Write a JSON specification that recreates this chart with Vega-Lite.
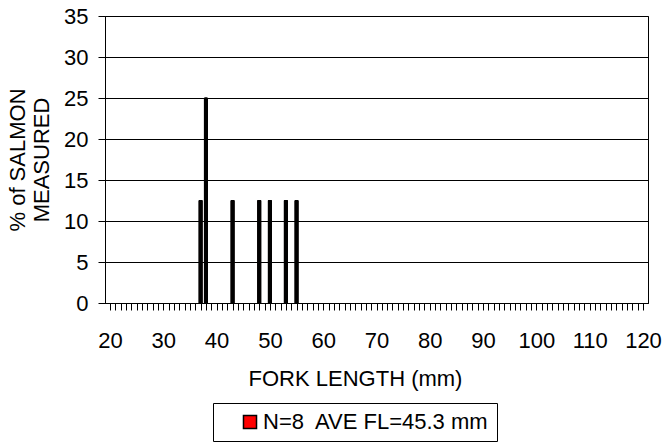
{
  "$schema": "https://vega.github.io/schema/vega-lite/v6.json",
  "width": 543,
  "height": 287,
  "autosize": {"type": "none"},
  "padding": {"left": 105, "top": 16, "right": 17, "bottom": 139},
  "background": "white",
  "config": {
    "font": "Liberation Sans, Arial, sans-serif",
    "view": {"stroke": "black", "strokeWidth": 1},
    "axis": {
      "domainColor": "black",
      "tickColor": "black",
      "gridColor": "black",
      "gridOpacity": 1,
      "gridWidth": 1,
      "labelColor": "black",
      "titleColor": "black",
      "labelFontSize": 22,
      "titleFontSize": 22,
      "titleFontWeight": "normal",
      "tickSize": 7
    }
  },
  "data": {
    "values": [
      {"fork_length": 37, "pct": 12.5},
      {"fork_length": 38, "pct": 25},
      {"fork_length": 43, "pct": 12.5},
      {"fork_length": 48, "pct": 12.5},
      {"fork_length": 50, "pct": 12.5},
      {"fork_length": 53, "pct": 12.5},
      {"fork_length": 55, "pct": 12.5}
    ]
  },
  "encoding": {
    "x": {
      "field": "fork_length",
      "type": "quantitative",
      "scale": {"domain": [20, 120], "nice": false, "zero": false},
      "axis": {
        "title": "FORK LENGTH (mm)",
        "tickCount": 100,
        "labelExpr": "datum.value % 10 === 0 ? datum.label : ''",
        "labelOverlap": false,
        "labelBound": false,
        "labelFlush": false,
        "labelPadding": 20,
        "grid": false,
        "titleX": 250,
        "titleY": 82,
        "titleBaseline": "alphabetic",
        "titleAnchor": "middle"
      }
    },
    "y": {
      "field": "pct",
      "type": "quantitative",
      "scale": {"domain": [0, 35], "nice": false},
      "axis": {
        "title": ["% of SALMON", "MEASURED"],
        "values": [0, 5, 10, 15, 20, 25, 30, 35],
        "grid": true,
        "labelPadding": 10,
        "titleLineHeight": 24,
        "titlePadding": 10
      }
    }
  },
  "layer": [
    {
      "mark": {"type": "bar", "width": 3, "fill": "red", "strokeWidth": 1},
      "encoding": {
        "stroke": {
          "datum": "N=8\u00a0 AVE FL=45.3 mm",
          "type": "nominal",
          "scale": {"range": ["black"]},
          "legend": {
            "title": null,
            "orient": "none",
            "legendX": 108,
            "legendY": 387,
            "padding": 8,
            "symbolOffset": 18,
            "symbolType": "square",
            "symbolSize": 170,
            "symbolStrokeWidth": 1.5,
            "labelFontSize": 22,
            "labelColor": "black",
            "labelOffset": 2,
            "labelLimit": 400,
            "strokeColor": "black",
            "fillColor": "white"
          }
        }
      }
    },
    {
      "mark": {"type": "bar", "width": 3, "fill": "black", "stroke": "black", "strokeWidth": 1}
    }
  ]
}
